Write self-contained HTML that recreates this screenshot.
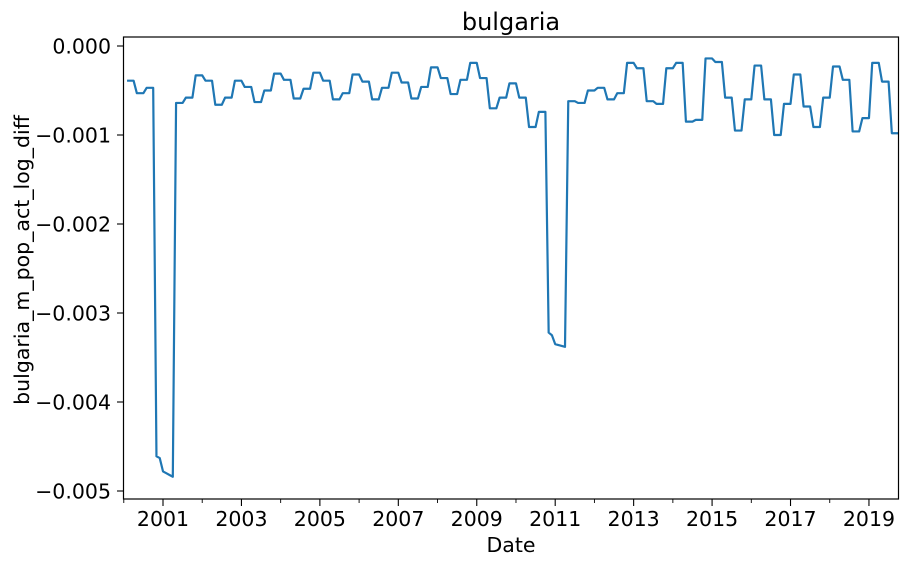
<!DOCTYPE html>
<html><head><meta charset="utf-8"><style>
body{margin:0;background:#fff;}
svg{display:block;font-family:"DejaVu Sans","Liberation Sans",sans-serif;}
</style></head><body>
<svg id="chart" width="908" height="564">
<text x="511" y="30" font-size="24" text-anchor="middle">bulgaria</text>
<g id="plot"></g>
<g id="xaxis"></g>
<g id="yaxis"></g>
<text x="511" y="552" font-size="20.5" text-anchor="middle">Date</text>
<text transform="translate(29,260) rotate(-90)" font-size="20.5" text-anchor="middle">bulgaria_m_pop_act_log_diff</text>
<rect x="123.5" y="37" width="775" height="462" fill="none" stroke="#000" stroke-width="1.2"/>
</svg>
<script>
const startYear = 2000, startMonth = 2; // first observation Feb 2000, monthly
const values = [
-0.00039,-0.00039,-0.00039, -0.00053,-0.00053,-0.00053, -0.00047,-0.00047,-0.00047,
-0.00461,-0.00463,-0.00478, -0.00480,-0.00482,-0.00484,
-0.00064,-0.00064,-0.00064, -0.00058,-0.00058,-0.00058, -0.00033,-0.00033,-0.00033,
-0.00039,-0.00039,-0.00039, -0.00066,-0.00066,-0.00066, -0.00058,-0.00058,-0.00058, -0.00039,-0.00039,-0.00039,
-0.00046,-0.00046,-0.00046, -0.00063,-0.00063,-0.00063, -0.00050,-0.00050,-0.00050, -0.00031,-0.00031,-0.00031,
-0.00038,-0.00038,-0.00038, -0.00059,-0.00059,-0.00059, -0.00048,-0.00048,-0.00048, -0.00030,-0.00030,-0.00030,
-0.00039,-0.00039,-0.00039, -0.00060,-0.00060,-0.00060, -0.00053,-0.00053,-0.00053, -0.00032,-0.00032,-0.00032,
-0.00040,-0.00040,-0.00040, -0.00060,-0.00060,-0.00060, -0.00047,-0.00047,-0.00047, -0.00030,-0.00030,-0.00030,
-0.00041,-0.00041,-0.00041, -0.00059,-0.00059,-0.00059, -0.00046,-0.00046,-0.00046, -0.00024,-0.00024,-0.00024,
-0.00036,-0.00036,-0.00036, -0.00054,-0.00054,-0.00054, -0.00038,-0.00038,-0.00038, -0.00019,-0.00019,-0.00019,
-0.00036,-0.00036,-0.00036, -0.00070,-0.00070,-0.00070, -0.00058,-0.00058,-0.00058, -0.00042,-0.00042,-0.00042,
-0.00058,-0.00058,-0.00058, -0.00091,-0.00091,-0.00091, -0.00074,-0.00074,-0.00074,
-0.00322,-0.00325,-0.00335, -0.00336,-0.00337,-0.00338,
-0.00062,-0.00062,-0.00062, -0.00064,-0.00064,-0.00064, -0.00050,-0.00050,-0.00050, -0.00047,-0.00047,-0.00047,
-0.00060,-0.00060,-0.00060, -0.00053,-0.00053,-0.00053, -0.00019,-0.00019,-0.00019, -0.00025,-0.00025,-0.00025,
-0.00062,-0.00062,-0.00062, -0.00065,-0.00065,-0.00065, -0.00025,-0.00025,-0.00025, -0.00019,-0.00019,-0.00019,
-0.00085,-0.00085,-0.00085, -0.00083,-0.00083,-0.00083, -0.00014,-0.00014,-0.00014, -0.00018,-0.00018,-0.00018,
-0.00058,-0.00058,-0.00058, -0.00095,-0.00095,-0.00095, -0.00060,-0.00060,-0.00060, -0.00022,-0.00022,-0.00022,
-0.00060,-0.00060,-0.00060, -0.00100,-0.00100,-0.00100, -0.00065,-0.00065,-0.00065, -0.00032,-0.00032,-0.00032,
-0.00068,-0.00068,-0.00068, -0.00091,-0.00091,-0.00091, -0.00058,-0.00058,-0.00058, -0.00023,-0.00023,-0.00023,
-0.00038,-0.00038,-0.00038, -0.00096,-0.00096,-0.00096, -0.00081,-0.00081,-0.00081, -0.00019,-0.00019,-0.00019,
-0.00040,-0.00040,-0.00040, -0.00098,-0.00098,-0.00098
];
const yTicks = [0, -0.001, -0.002, -0.003, -0.004, -0.005];
const yTickLabels = ["0.000","\u22120.001","\u22120.002","\u22120.003","\u22120.004","\u22120.005"];
const xMajorYears = [2001,2003,2005,2007,2009,2011,2013,2015,2017,2019];
const xMinorYears = [2000,2002,2004,2006,2008,2010,2012,2014,2016,2018];

const NS = "http://www.w3.org/2000/svg";
function xScale(t){ return 163 + (t - 2001) * 39.22; }
function yScale(v){ return 46 - v * 89000; }
function mk(tag, attrs, parent){
  const e = document.createElementNS(NS, tag);
  for (const k in attrs) e.setAttribute(k, attrs[k]);
  parent.appendChild(e); return e;
}
const plot = document.getElementById('plot');
const xa = document.getElementById('xaxis');
const ya = document.getElementById('yaxis');

let d = "";
values.forEach((v, i) => {
  const t = startYear + (startMonth - 1 + i) / 12;
  d += (i ? "L" : "M") + xScale(t).toFixed(2) + "," + yScale(v).toFixed(2);
});
const line = mk('path', {d: d, fill: 'none', stroke: '#1f77b4', 'stroke-width': 2.2, 'stroke-linejoin': 'round'}, plot);



yTicks.forEach((v, i) => {
  const y = yScale(v);
  const tk = mk('line', {x1: 117, x2: 123.5, y1: y, y2: y, stroke: '#000', 'stroke-width': 1.1}, ya);
  
  
  const lb = mk('text', {x: 111, y: y + 7.5, 'font-size': 20.5, 'text-anchor': 'end'}, ya);
  lb.textContent = yTickLabels[i];
  
  
});
xMajorYears.forEach(yr => {
  const x = xScale(yr);
  const tk = mk('line', {x1: x, x2: x, y1: 499, y2: 506, stroke: '#000', 'stroke-width': 1.1}, xa);
  
  
  const lb = mk('text', {x: x, y: 526, 'font-size': 20.5, 'text-anchor': 'middle'}, xa);
  lb.textContent = String(yr);
  
  
});
xMinorYears.forEach(yr => {
  const x = xScale(yr);
  const tk = mk('line', {x1: x, x2: x, y1: 499, y2: 503, stroke: '#000', 'stroke-width': 0.9}, xa);
  
  
});
</script>
</body></html>
